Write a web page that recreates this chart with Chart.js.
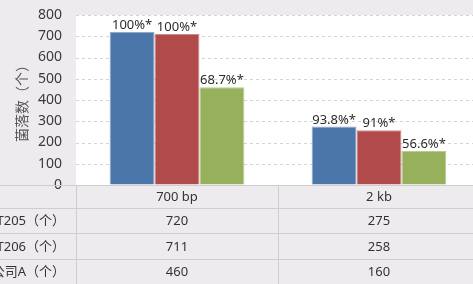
<!DOCTYPE html>
<html>
<head>
<meta charset="utf-8">
<script src="https://cdn.jsdelivr.net/npm/chart.js@4"></script>
<style>
  html, body { margin: 0; padding: 0; background: #eeebee; overflow: hidden; }
  #wrap { width: 473px; height: 284px; overflow: hidden; }
</style>
</head>
<body>
<div id="wrap"><canvas id="chart" width="480" height="284"></canvas></div>
<script>
// values
const categories = ['700 bp', '2 kb'];
const seriesNames = ['T205（个）', 'T206（个）', '公司A（个）'];
const t205 = [720, 275];
const t206 = [711, 258];
const companyA = [460, 160];
const t205Labels = ['100%*', '93.8%*'];
const t206Labels = ['100%*', '91%*'];
const companyALabels = ['68.7%*', '56.6%*'];
const yTicks = [0, 100, 200, 300, 400, 500, 600, 700, 800];

const colors = ['#4a76a9', '#b04a4b', '#96b05b'];
const borders = ['#8fa9cc', '#cf8a8a', '#b9cc8e'];
const seriesValues = [t205, t206, companyA];
const seriesLabels = [t205Labels, t206Labels, companyALabels];

const font = '"Noto Sans", "Noto Sans CJK SC", sans-serif';

// white plot area + data table under the chart
const tablePlugin = {
  id: 'tablePlugin',
  beforeDatasetsDraw(chart) {
    const {ctx, chartArea} = chart;
    ctx.save();
    ctx.fillStyle = '#ffffff';
    ctx.fillRect(chartArea.left, chartArea.top, chartArea.right - chartArea.left, chartArea.bottom - chartArea.top);
    // dashed grid lines
    const y = chart.scales.y;
    ctx.strokeStyle = '#d4d4d4';
    ctx.lineWidth = 1;
    ctx.setLineDash([3, 3]);
    yTicks.forEach(t => {
      if (t === 0) return;
      const py = Math.round(y.getPixelForValue(t)) + 0.5;
      ctx.beginPath();
      ctx.moveTo(chartArea.left, py);
      ctx.lineTo(chartArea.right, py);
      ctx.stroke();
    });
    ctx.restore();
  },
  afterDraw(chart) {
    const {ctx, chartArea} = chart;
    const x = chart.scales.x;
    ctx.save();

    // value labels on top of the bars
    ctx.fillStyle = '#2b2b2b';
    ctx.font = '13px ' + font;
    ctx.textAlign = 'center';
    ctx.textBaseline = 'bottom';
    seriesValues.forEach((vals, di) => {
      const meta = chart.getDatasetMeta(di);
      vals.forEach((v, i) => {
        const bar = meta.data[i];
        ctx.fillText(seriesLabels[di][i], bar.x, bar.y);
      });
    });

    // table
    const rowH = [23, 25, 26, 25];
    let rows = [chartArea.bottom];
    rowH.forEach(h => rows.push(rows[rows.length - 1] + h));
    ctx.strokeStyle = '#cfcdd0';
    ctx.lineWidth = 1;
    rows.slice(0, 4).forEach(ry => {
      ctx.beginPath();
      ctx.moveTo(0, Math.round(ry) + 0.5);
      ctx.lineTo(chart.width, Math.round(ry) + 0.5);
      ctx.stroke();
    });
    const colW = x.getPixelForValue(1) - x.getPixelForValue(0);
    const vlines = [chartArea.left, x.getPixelForValue(0) + colW / 2, x.getPixelForValue(1) + colW / 2];
    vlines.forEach(vx => {
      ctx.beginPath();
      ctx.moveTo(Math.round(vx) + 0.5, chartArea.bottom);
      ctx.lineTo(Math.round(vx) + 0.5, chart.height);
      ctx.stroke();
    });

    ctx.fillStyle = '#333333';
    ctx.textBaseline = 'middle';
    ctx.font = '13px ' + font;
    categories.forEach((c, i) => {
      ctx.textAlign = 'center';
      ctx.fillText(c, x.getPixelForValue(i), (rows[0] + rows[1]) / 2 + 1);
    });
    seriesValues.forEach((vals, di) => {
      const cy = (rows[di + 1] + rows[di + 2]) / 2 + 1;
      ctx.textAlign = 'right';
      ctx.fillText(seriesNames[di], chartArea.left - 11, cy);
      ctx.textAlign = 'center';
      vals.forEach((v, i) => ctx.fillText(String(v), x.getPixelForValue(i), cy));
    });
    ctx.restore();
  }
};

new Chart('chart', {
  type: 'bar',
  data: {
    labels: categories,
    datasets: seriesNames.map((name, i) => ({
      label: name,
      data: seriesValues[i],
      backgroundColor: colors[i],
      borderColor: borders[i],
      borderWidth: 1,
      barPercentage: 1,
      categoryPercentage: 0.667
    }))
  },
  options: {
    responsive: false,
    devicePixelRatio: 1,
    animation: false,
    layout: { padding: { top: 15, right: 0, bottom: 99, left: 0 } },
    plugins: {
      legend: { display: false },
      tooltip: { enabled: false }
    },
    scales: {
      x: { display: false },
      y: {
        min: 0,
        max: 800,
        afterFit(scale) { scale.width = 76; },
        afterBuildTicks(scale) { scale.ticks = yTicks.map(v => ({value: v})); },
        grid: { display: true, drawOnChartArea: false, drawTicks: true, tickLength: 14, color: 'rgba(0,0,0,0)' },
        border: { display: false },
        ticks: {
          padding: 0,
          color: '#3a3a3a',
          font: { family: font, size: 14 }
        },
        title: {
          display: true,
          text: '菌落数（个）',
          color: '#555555',
          padding: { top: 13, bottom: 0 },
          font: { family: '"Noto Sans CJK SC", sans-serif', size: 14 }
        }
      }
    }
  },
  plugins: [tablePlugin]
});
</script>
</body>
</html>
